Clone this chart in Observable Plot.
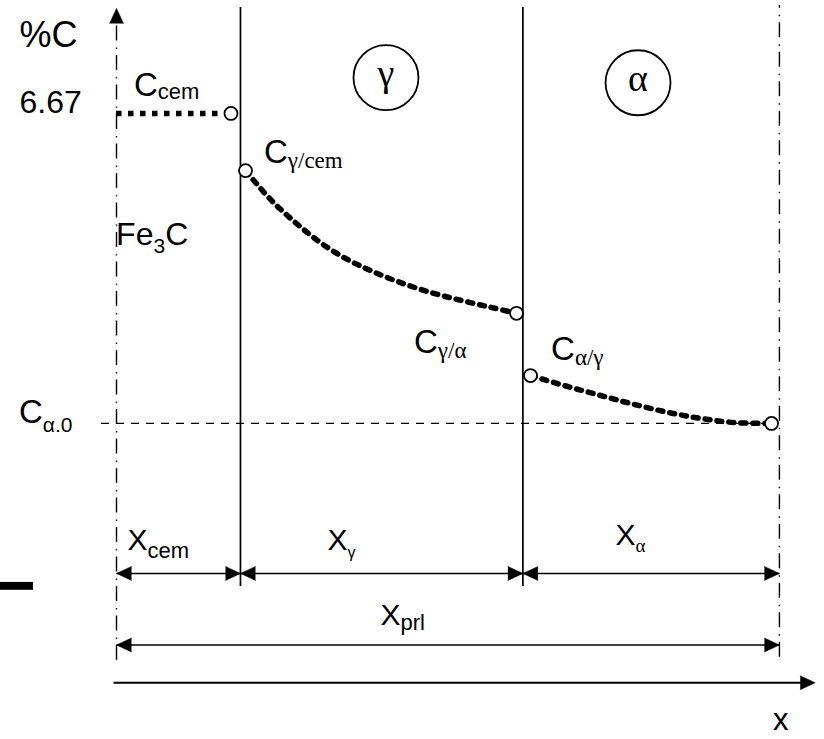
<!DOCTYPE html>
<html>
<head>
<meta charset="utf-8">
<script src="https://cdn.jsdelivr.net/npm/d3@7"></script>
<script src="https://cdn.jsdelivr.net/npm/@observablehq/plot@0.6"></script>
<style>
  html, body { margin: 0; padding: 0; background: #fff; }
  #chart svg { display: block; }
</style>
</head>
<body>
<div id="chart"></div>
<script>
// ---------- DATA (diagram units: x = position across the colony, 0 = Fe3C axis, 100 = α edge;
//            y = carbon content in %C, schematic, C_α.0 taken as 0) ----------
const cCem = 6.67;           // %C of cementite
const cAlpha0 = 0;           // C_α.0 reference level

const axisX = 0;             // Fe3C centre line (dash-dot axis)
const cemGammaX = 18.7;      // cementite / austenite interface
const gammaAlphaX = 61.3;    // austenite / ferrite interface
const edgeX = 100;           // ferrite edge (dash-dot)

// C in austenite from C_γ/cem down to C_γ/α
const gammaCurveX = [19.46, 23.23, 27.00, 30.77, 34.55, 38.32, 42.84, 47.37, 51.89, 56.42, 60.34];
const gammaCurveC = [5.44, 4.82, 4.32, 3.89, 3.55, 3.29, 3.03, 2.82, 2.65, 2.50, 2.37];
// C in ferrite from C_α/γ down to C_α.0
const alphaCurveX = [62.45, 67.43, 72.56, 77.54, 83.12, 88.10, 93.07, 98.81];
const alphaCurveC = [1.03, 0.82, 0.62, 0.43, 0.24, 0.11, 0.02, 0.00];

// interface concentration markers
const interfaceX = [17.27, 19.46, 60.34, 62.45, 98.81];
const interfaceC = [6.67, 5.44, 2.37, 1.03, 0.00];

// dimension lines X_cem, X_γ, X_α, X_prl
const dimFrom = [0, 18.7, 61.3, 0];
const dimTo   = [18.7, 61.3, 100, 100];
const dimLevel = [-3.227, -3.227, -3.227, -4.766];

// phase circles
const phaseSymbol = ["γ", "α"];
const phaseX = [40.65, 78.67];
const phaseC = [7.44, 7.33];

// extents of the construction lines
const axisTop = 8.93, axisBottom = -5.10;
const edgeTop = 8.99, edgeBottom = -5.03;
const boundaryTop = 8.95, boundaryBottom = -3.507;
const refLineStart = -2.26;
const xAxisLevel = -5.579, xAxisStart = -0.45, xAxisEnd = 105.4;
const strayBar = [{x1: -17.5, x2: -12.52, y1: -3.59, y2: -3.42}];

// labels: main text, subscript, tail
const labels = [
  {id: "yTitle", main: "%C", x: -14.63, y: 8.096},
  {id: "tick",   main: "6.67", x: -14.63, y: cCem},
  {id: "Ccem",   main: "C", sub: "cem", x: 2.64, y: 7.036},
  {id: "Cgcem",  main: "C", sub: "γ/cem", x: 22.25, y: 5.594},
  {id: "Fe3C",   main: "Fe", sub: "3", tail: "C", x: -0.06, y: 3.830},
  {id: "Cga",    main: "C", sub: "γ/α", x: 44.88, y: 1.506},
  {id: "Cag",    main: "C", sub: "α/γ", x: 65.55, y: 1.355},
  {id: "Ca0",    main: "C", sub: "α.0", x: -14.71, y: cAlpha0},
  {id: "Xcem",   main: "X", sub: "cem", x: 1.66, y: -2.732},
  {id: "Xg",     main: "X", sub: "γ", x: 31.83, y: -2.732},
  {id: "Xa",     main: "X", sub: "α", x: 75.27, y: -2.625},
  {id: "Xprl",   main: "X", sub: "prl", x: 39.83, y: -4.346}
];
const xTitle = [{text: "x", x: 100.2, y: -6.60}];

// ---------- STYLES ----------
const SANS = "'Liberation Sans', Arial, Helvetica, sans-serif";
const SERIF = "'Liberation Serif', 'Times New Roman', 'DejaVu Serif', serif";
const mainSize = {yTitle: 36, tick: 32, Ccem: 33, Cgcem: 33, Fe3C: 32, Cga: 33, Cag: 33, Ca0: 33,
                  Xcem: 30, Xg: 30, Xa: 30, Xprl: 30};
const subStyle = {
  Ccem:  {size: 22, family: SANS,  dy: 3},
  Cgcem: {size: 23, family: SERIF, dy: 5},
  Fe3C:  {size: 21, family: SANS,  dy: 8},
  Cga:   {size: 23, family: SERIF, dy: 5},
  Cag:   {size: 23, family: SERIF, dy: 5},
  Ca0:   {size: 21, family: SANS,  dy: 9},
  Xcem:  {size: 22, family: SANS,  dy: 8},
  Xg:    {size: 16, family: SANS,  dy: 8},
  Xa:    {size: 19, family: SERIF, dy: 7},
  Xprl:  {size: 22, family: SANS,  dy: 5}
};

// ---------- derived tables ----------
const gammaCurve = gammaCurveX.map((x, i) => ({x, c: gammaCurveC[i]}));
const alphaCurve = alphaCurveX.map((x, i) => ({x, c: alphaCurveC[i]}));
const interfaces = interfaceX.map((x, i) => ({x, c: interfaceC[i]}));
const dims = dimFrom.map((f, i) => ({from: f, to: dimTo[i], y: dimLevel[i]}));
const heads = [
  ...dims.flatMap(d => [{x: d.from, y: d.y, rotate: 270}, {x: d.to, y: d.y, rotate: 90}]),
  {x: axisX, y: axisTop, rotate: 0},
  {x: xAxisEnd, y: xAxisLevel, rotate: 90}
];
const phases = phaseSymbol.map((s, i) => ({s, x: phaseX[i], c: phaseC[i]}));
const keyOf = l => [l.main, l.sub, l.tail].filter(v => v != null).join("|");

const dotted = {stroke: "black", strokeWidth: 5.5, strokeDasharray: "5,7"};
const dashDot = {stroke: "black", strokeWidth: 1.4, strokeDasharray: "15,6,1.5,7"};

const svg = Plot.plot({
  width: 824,
  height: 739,
  marginTop: 0, marginRight: 0, marginBottom: 0, marginLeft: 0,
  x: {domain: [-17.5, 106.8], range: [0, 824], axis: null},
  y: {domain: [-6.80, 9.10], range: [739, 0], axis: null},
  style: {background: "white", color: "black"},
  marks: [
    Plot.rect(strayBar, {x1: "x1", x2: "x2", y1: "y1", y2: "y2", fill: "black"}),
    // construction lines
    Plot.ruleX([axisX], {y1: axisBottom, y2: axisTop - 0.3, ...dashDot}),
    Plot.ruleX([edgeX], {y1: edgeBottom, y2: edgeTop, ...dashDot}),
    Plot.ruleX([cemGammaX, gammaAlphaX], {y1: boundaryBottom, y2: boundaryTop, stroke: "black", strokeWidth: 1.7}),
    Plot.ruleY([cAlpha0], {x1: refLineStart, x2: edgeX, stroke: "black", strokeWidth: 1.3, strokeDasharray: "8,7"}),
    // concentration profiles
    Plot.ruleY([cCem], {x1: axisX, x2: interfaceX[0], ...dotted, strokeDasharray: "5.5,6.5"}),
    Plot.line(gammaCurve, {x: "x", y: "c", curve: "catmull-rom", ...dotted}),
    Plot.line(alphaCurve, {x: "x", y: "c", curve: "catmull-rom", ...dotted}),
    Plot.dot(interfaces, {x: "x", y: "c", r: 6.5, fill: "white", stroke: "black", strokeWidth: 1.8}),
    // dimension lines and axes
    Plot.link(dims, {x1: "from", x2: "to", y1: "y", y2: "y", stroke: "black", strokeWidth: 1.6}),
    Plot.link([{}], {x1: () => xAxisStart, x2: () => xAxisEnd - 1.5, y1: () => xAxisLevel, y2: () => xAxisLevel, stroke: "black", strokeWidth: 2}),
    Plot.vector(heads, {x: "x", y: "y", rotate: "rotate", length: 15, r: 7, shape: "spike", anchor: "end",
                        fill: "black", stroke: "black", strokeWidth: 0.5}),
    // phase circles
    Plot.dot(phases, {x: "x", y: "c", r: 32.5, fill: "none", stroke: "black", strokeWidth: 1.8}),
    Plot.text(phases, {x: "x", y: "c", text: "s", lineAnchor: "bottom", dy: 8, fontFamily: SERIF, fontSize: 38, fill: "black"}),
    // labels
    Plot.text(labels, {x: "x", y: "y", text: keyOf, textAnchor: "start", lineAnchor: "bottom",
                       fontFamily: SANS, fontSize: d => mainSize[d.id], fill: "black"}),
    Plot.text(xTitle, {x: "x", y: "y", text: "text", lineAnchor: "bottom", fontFamily: SANS, fontSize: 31, fill: "black"})
  ]
});

// build subscripts as tspans
d3.select(svg).selectAll("text").each(function () {
  const s = this.textContent;
  if (!s.includes("|")) return;
  const lab = labels.find(l => keyOf(l) === s);
  if (!lab) return;
  const st = subStyle[lab.id];
  const [main, sub, tail] = s.split("|");
  this.textContent = "";
  const t = d3.select(this);
  t.append("tspan").text(main);
  t.append("tspan").attr("font-size", st.size).attr("font-family", st.family).attr("dy", st.dy).text(sub);
  if (tail) t.append("tspan").attr("dy", -st.dy).text(tail);
});

document.getElementById("chart").appendChild(svg);
</script>
</body>
</html>
